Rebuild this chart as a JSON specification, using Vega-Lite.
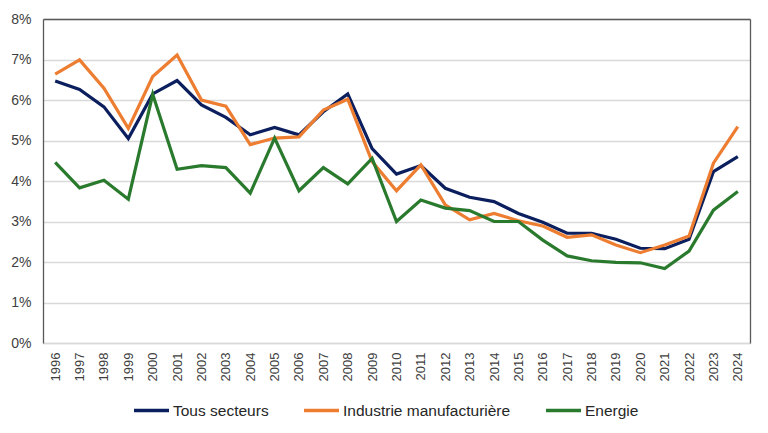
{
  "$schema": "https://vega.github.io/schema/vega-lite/v6.json",
  "autosize": {"type": "none"},
  "width": 707,
  "height": 324,
  "padding": {"left": 43, "top": 19, "right": 18, "bottom": 90},
  "background": "white",
  "config": {
    "view": {"stroke": null},
    "font": "Liberation Sans"
  },
  "data": {
    "values": [
      {"annee": "1996", "serie": "Tous secteurs", "taux": 6.47},
      {"annee": "1997", "serie": "Tous secteurs", "taux": 6.26},
      {"annee": "1998", "serie": "Tous secteurs", "taux": 5.83},
      {"annee": "1999", "serie": "Tous secteurs", "taux": 5.05},
      {"annee": "2000", "serie": "Tous secteurs", "taux": 6.15},
      {"annee": "2001", "serie": "Tous secteurs", "taux": 6.48},
      {"annee": "2002", "serie": "Tous secteurs", "taux": 5.88},
      {"annee": "2003", "serie": "Tous secteurs", "taux": 5.57},
      {"annee": "2004", "serie": "Tous secteurs", "taux": 5.14},
      {"annee": "2005", "serie": "Tous secteurs", "taux": 5.32},
      {"annee": "2006", "serie": "Tous secteurs", "taux": 5.14},
      {"annee": "2007", "serie": "Tous secteurs", "taux": 5.71},
      {"annee": "2008", "serie": "Tous secteurs", "taux": 6.15},
      {"annee": "2009", "serie": "Tous secteurs", "taux": 4.8},
      {"annee": "2010", "serie": "Tous secteurs", "taux": 4.17},
      {"annee": "2011", "serie": "Tous secteurs", "taux": 4.38},
      {"annee": "2012", "serie": "Tous secteurs", "taux": 3.82},
      {"annee": "2013", "serie": "Tous secteurs", "taux": 3.6},
      {"annee": "2014", "serie": "Tous secteurs", "taux": 3.49},
      {"annee": "2015", "serie": "Tous secteurs", "taux": 3.2},
      {"annee": "2016", "serie": "Tous secteurs", "taux": 2.98},
      {"annee": "2017", "serie": "Tous secteurs", "taux": 2.71},
      {"annee": "2018", "serie": "Tous secteurs", "taux": 2.71},
      {"annee": "2019", "serie": "Tous secteurs", "taux": 2.56},
      {"annee": "2020", "serie": "Tous secteurs", "taux": 2.34},
      {"annee": "2021", "serie": "Tous secteurs", "taux": 2.33},
      {"annee": "2022", "serie": "Tous secteurs", "taux": 2.56},
      {"annee": "2023", "serie": "Tous secteurs", "taux": 4.23},
      {"annee": "2024", "serie": "Tous secteurs", "taux": 4.6},
      {"annee": "1996", "serie": "Industrie manufacturière", "taux": 6.64},
      {"annee": "1997", "serie": "Industrie manufacturière", "taux": 6.99},
      {"annee": "1998", "serie": "Industrie manufacturière", "taux": 6.29},
      {"annee": "1999", "serie": "Industrie manufacturière", "taux": 5.3},
      {"annee": "2000", "serie": "Industrie manufacturière", "taux": 6.58},
      {"annee": "2001", "serie": "Industrie manufacturière", "taux": 7.11},
      {"annee": "2002", "serie": "Industrie manufacturière", "taux": 6.0},
      {"annee": "2003", "serie": "Industrie manufacturière", "taux": 5.85},
      {"annee": "2004", "serie": "Industrie manufacturière", "taux": 4.9},
      {"annee": "2005", "serie": "Industrie manufacturière", "taux": 5.06},
      {"annee": "2006", "serie": "Industrie manufacturière", "taux": 5.09},
      {"annee": "2007", "serie": "Industrie manufacturière", "taux": 5.75},
      {"annee": "2008", "serie": "Industrie manufacturière", "taux": 6.02},
      {"annee": "2009", "serie": "Industrie manufacturière", "taux": 4.48},
      {"annee": "2010", "serie": "Industrie manufacturière", "taux": 3.76},
      {"annee": "2011", "serie": "Industrie manufacturière", "taux": 4.4},
      {"annee": "2012", "serie": "Industrie manufacturière", "taux": 3.41},
      {"annee": "2013", "serie": "Industrie manufacturière", "taux": 3.04},
      {"annee": "2014", "serie": "Industrie manufacturière", "taux": 3.2},
      {"annee": "2015", "serie": "Industrie manufacturière", "taux": 3.02},
      {"annee": "2016", "serie": "Industrie manufacturière", "taux": 2.89},
      {"annee": "2017", "serie": "Industrie manufacturière", "taux": 2.61},
      {"annee": "2018", "serie": "Industrie manufacturière", "taux": 2.67},
      {"annee": "2019", "serie": "Industrie manufacturière", "taux": 2.42},
      {"annee": "2020", "serie": "Industrie manufacturière", "taux": 2.23},
      {"annee": "2021", "serie": "Industrie manufacturière", "taux": 2.42},
      {"annee": "2022", "serie": "Industrie manufacturière", "taux": 2.64},
      {"annee": "2023", "serie": "Industrie manufacturière", "taux": 4.44},
      {"annee": "2024", "serie": "Industrie manufacturière", "taux": 5.34},
      {"annee": "1996", "serie": "Energie", "taux": 4.46},
      {"annee": "1997", "serie": "Energie", "taux": 3.83},
      {"annee": "1998", "serie": "Energie", "taux": 4.02},
      {"annee": "1999", "serie": "Energie", "taux": 3.55},
      {"annee": "2000", "serie": "Energie", "taux": 6.14},
      {"annee": "2001", "serie": "Energie", "taux": 4.29},
      {"annee": "2002", "serie": "Energie", "taux": 4.38},
      {"annee": "2003", "serie": "Energie", "taux": 4.33},
      {"annee": "2004", "serie": "Energie", "taux": 3.7},
      {"annee": "2005", "serie": "Energie", "taux": 5.06},
      {"annee": "2006", "serie": "Energie", "taux": 3.76},
      {"annee": "2007", "serie": "Energie", "taux": 4.33},
      {"annee": "2008", "serie": "Energie", "taux": 3.93},
      {"annee": "2009", "serie": "Energie", "taux": 4.56},
      {"annee": "2010", "serie": "Energie", "taux": 3.0},
      {"annee": "2011", "serie": "Energie", "taux": 3.53},
      {"annee": "2012", "serie": "Energie", "taux": 3.33},
      {"annee": "2013", "serie": "Energie", "taux": 3.27},
      {"annee": "2014", "serie": "Energie", "taux": 3.0},
      {"annee": "2015", "serie": "Energie", "taux": 3.0},
      {"annee": "2016", "serie": "Energie", "taux": 2.54},
      {"annee": "2017", "serie": "Energie", "taux": 2.15},
      {"annee": "2018", "serie": "Energie", "taux": 2.03},
      {"annee": "2019", "serie": "Energie", "taux": 1.99},
      {"annee": "2020", "serie": "Energie", "taux": 1.98},
      {"annee": "2021", "serie": "Energie", "taux": 1.84},
      {"annee": "2022", "serie": "Energie", "taux": 2.27},
      {"annee": "2023", "serie": "Energie", "taux": 3.28},
      {"annee": "2024", "serie": "Energie", "taux": 3.74}
    ]
  },
  "resolve": {"axis": {"x": "independent", "y": "independent"}},
  "layer": [
    {
      "description": "Frame: top and right edges of the plot area",
      "mark": {"type": "line", "strokeOpacity": 0},
      "encoding": {
        "x": {
          "field": "annee", "type": "ordinal",
          "scale": {"type": "point", "padding": 0.5},
          "axis": {"orient": "top", "title": null, "labels": false, "ticks": false, "grid": false, "domainColor": "#595959", "domainWidth": 1.3}
        },
        "y": {
          "field": "taux", "type": "quantitative",
          "scale": {"domain": [0, 8], "nice": false},
          "axis": {"orient": "right", "title": null, "labels": false, "ticks": false, "grid": false, "domainColor": "#595959", "domainWidth": 1.3}
        },
        "detail": {"field": "serie"}
      }
    },
    {
      "mark": {"type": "line", "strokeWidth": 3.2, "strokeJoin": "miter", "strokeCap": "butt"},
      "encoding": {
        "x": {
          "field": "annee", "type": "ordinal",
          "scale": {"type": "point", "padding": 0.5},
          "axis": {
            "title": null, "labelAngle": -90, "labelFontSize": 13, "labelColor": "#404040",
            "labelPadding": 9, "ticks": false, "grid": false,
            "domainColor": "#D9D9D9", "domainWidth": 1.5
          }
        },
        "y": {
          "field": "taux", "type": "quantitative",
          "scale": {"domain": [0, 8], "nice": false},
          "axis": {
            "title": null, "values": [0, 1, 2, 3, 4, 5, 6, 7, 8],
            "labelExpr": "datum.value + '%'", "labelFontSize": 14, "labelColor": "#404040",
            "labelPadding": 12, "ticks": false,
            "grid": true, "gridColor": "#D9D9D9", "gridWidth": 1.5,
            "domainColor": "#595959", "domainWidth": 1.3
          }
        },
        "color": {
          "field": "serie", "type": "nominal",
          "scale": {
            "domain": ["Tous secteurs", "Industrie manufacturière", "Energie"],
            "range": ["#0B1F5E", "#ED7D31", "#2A7A2E"]
          },
          "legend": {
            "title": null, "orient": "none", "direction": "horizontal",
            "legendX": 89, "legendY": 372,
            "symbolType": "stroke", "symbolSize": 1225, "symbolStrokeWidth": 3.5,
            "labelFontSize": 15.5, "labelColor": "#262626", "labelOffset": 2,
            "labelLimit": 0, "columnPadding": 28
          }
        }
      }
    }
  ]
}
